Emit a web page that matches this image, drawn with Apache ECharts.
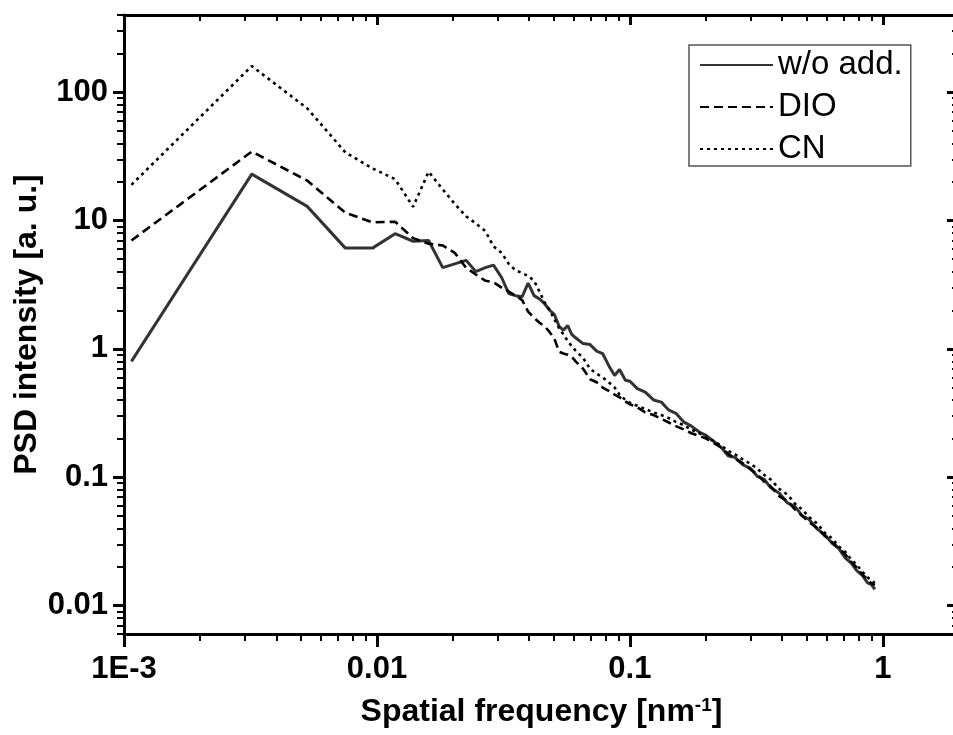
<!DOCTYPE html>
<html>
<head>
<meta charset="utf-8">
<script src="https://cdn.jsdelivr.net/npm/echarts@6/dist/echarts.min.js"></script>
<style>
  html, body { margin: 0; padding: 0; background: #fff; }
  #chart { width: 953px; height: 735px; }
</style>
</head>
<body>
<div id="chart"></div>
<script>
// spatial frequency [nm^-1]
var freq = [0.00107, 0.0032, 0.0053, 0.0075, 0.0096, 0.0118, 0.0139, 0.016, 0.0182, 0.0203,
  0.0225, 0.0246, 0.0268, 0.0289, 0.0311, 0.0332, 0.0353, 0.0375, 0.0396, 0.0418,
  0.0439, 0.046, 0.0482, 0.0503, 0.0525, 0.0546, 0.0568, 0.0589, 0.061, 0.0653,
  0.0696, 0.0739, 0.078, 0.0825, 0.087, 0.091, 0.096, 0.1, 0.107, 0.115,
  0.124, 0.133, 0.142, 0.152, 0.163, 0.175, 0.188, 0.2, 0.215, 0.23,
  0.245, 0.26, 0.28, 0.3, 0.32, 0.34, 0.36, 0.39, 0.42, 0.45,
  0.48, 0.51, 0.55, 0.59, 0.63, 0.67, 0.71, 0.75, 0.79, 0.83,
  0.87, 0.9, 0.93];

var woAdd = [0.8, 23, 12.9, 6.1, 6.1, 7.9, 6.9, 7.0, 4.3, 4.6,
  4.9, 4.0, 4.3, 4.5, 3.6, 2.7, 2.6, 2.55, 3.25, 2.6,
  2.45, 2.25, 2.0, 1.85, 1.5, 1.4, 1.52, 1.3, 1.22, 1.1,
  1.08, 0.96, 0.92, 0.74, 0.62, 0.69, 0.57, 0.56, 0.49, 0.46,
  0.40, 0.385, 0.335, 0.315, 0.27, 0.25, 0.225, 0.212, 0.19, 0.17,
  0.146, 0.143, 0.125, 0.117, 0.101, 0.096, 0.083, 0.075, 0.063, 0.059,
  0.05, 0.047, 0.0395, 0.0356, 0.0305, 0.0278, 0.0235, 0.0214, 0.0186, 0.0172,
  0.015, 0.0146, 0.0134];

var dio = [7.0, 34.5, 20.5, 11.5, 9.7, 9.8, 7.3, 6.6, 6.4, 5.6,
  4.3, 3.8, 3.4, 3.3, 3.0, 2.8, 2.6, 2.4, 1.95, 1.75,
  1.6, 1.5, 1.35, 1.2, 0.95, 0.92, 0.9, 0.87, 0.8, 0.7,
  0.58, 0.55, 0.5, 0.47, 0.44, 0.42, 0.39, 0.37, 0.35, 0.32,
  0.305, 0.285, 0.268, 0.25, 0.236, 0.22, 0.21, 0.2, 0.184, 0.17,
  0.152, 0.14, 0.128, 0.115, 0.105, 0.092, 0.085, 0.071, 0.065, 0.056,
  0.05, 0.0448, 0.0402, 0.0348, 0.0312, 0.0279, 0.0251, 0.0219, 0.0197, 0.0174,
  0.0161, 0.0149, 0.0145];

var cn = [19, 160, 75, 34, 25.5, 21, 12.8, 24, 17.5, 13.5,
  10.8, 9.5, 8.3, 6.3, 5.6, 4.6, 4.1, 3.9, 3.7, 3.4,
  2.8, 2.3, 2.0, 1.7, 1.45, 1.3, 1.15, 1.05, 0.97, 0.85,
  0.7, 0.64, 0.6, 0.55, 0.5, 0.44, 0.4, 0.38, 0.36, 0.34,
  0.32, 0.305, 0.29, 0.27, 0.255, 0.235, 0.22, 0.205, 0.19, 0.176,
  0.16, 0.151, 0.137, 0.127, 0.116, 0.104, 0.096, 0.081, 0.073, 0.062,
  0.056, 0.049, 0.0435, 0.0368, 0.0334, 0.0288, 0.0262, 0.0228, 0.0207, 0.0183,
  0.0166, 0.0156, 0.015];

var seriesNames = ['w/o add.', 'DIO', 'CN'];

var xMajor = [0.001, 0.01, 0.1, 1];
var xLabels = ['1E-3', '0.01', '0.1', '1'];
var xMinor = [0.002, 0.003, 0.004, 0.005, 0.006, 0.007, 0.008, 0.009,
  0.02, 0.03, 0.04, 0.05, 0.06, 0.07, 0.08, 0.09,
  0.2, 0.3, 0.4, 0.5, 0.6, 0.7, 0.8, 0.9, 2];
var yMajor = [0.01, 0.1, 1, 10, 100];
var yLabels = ['0.01', '0.1', '1', '10', '100'];
var yMinor = [0.006, 0.007, 0.008, 0.009,
  0.02, 0.03, 0.04, 0.05, 0.06, 0.07, 0.08, 0.09,
  0.2, 0.3, 0.4, 0.5, 0.6, 0.7, 0.8, 0.9,
  2, 3, 4, 5, 6, 7, 8, 9,
  20, 30, 40, 50, 60, 70, 80, 90, 200, 300, 400];

var font = 'Liberation Sans, Arial, sans-serif';

function pairs(ys) {
  return freq.map(function (f, i) { return [f, ys[i]]; });
}
function labelFor(list, labels) {
  return function (v) {
    for (var i = 0; i < list.length; i++) {
      if (Math.abs(Math.log10(v) - Math.log10(list[i])) < 1e-6) return labels[i];
    }
    return '';
  };
}

function logAxis(min, max, pos, ticks, len, width, inside, withLine) {
  return {
    type: 'log', logBase: 10, min: min, max: max, position: pos,
    axisLine: { show: withLine, onZero: false, lineStyle: { color: '#000', width: 3 } },
    axisTick: { show: true, inside: inside, length: len, customValues: ticks,
      lineStyle: { color: '#000', width: width } },
    axisLabel: { show: false },
    splitLine: { show: false }, minorTick: { show: false }
  };
}

var xBottom = logAxis(0.001, 2, 'bottom', xMajor, 13, 3, false, true);
xBottom.axisLabel = { show: true, customValues: xMajor, formatter: labelFor(xMajor, xLabels),
  fontSize: 31, fontWeight: 'bold', fontFamily: font, color: '#000', margin: 20 };
xBottom.name = 'Spatial frequency [nm{sup|-1}]';
xBottom.nameLocation = 'middle';
xBottom.nameGap = 62;
xBottom.nameMoveOverlap = false;
xBottom.nameTextStyle = { fontSize: 32, fontWeight: 'bold', fontFamily: font, color: '#000',
  rich: { sup: { fontSize: 19, fontWeight: 'bold', fontFamily: font, color: '#000', verticalAlign: 'top' } } };

var yLeft = logAxis(0.006, 400, 'left', yMajor, 11, 3, false, true);
yLeft.axisLabel = { show: true, customValues: yMajor, formatter: labelFor(yMajor, yLabels),
  fontSize: 31, fontWeight: 'bold', fontFamily: font, color: '#000', margin: 16 };
yLeft.name = 'PSD intensity [a. u.]';
yLeft.nameLocation = 'middle';
yLeft.nameGap = 81;
yLeft.nameMoveOverlap = false;
yLeft.nameTextStyle = { fontSize: 32, fontWeight: 'bold', fontFamily: font, color: '#000' };

var option = {
  animation: false,
  backgroundColor: '#fff',
  grid: { left: 124, top: 15, width: 835, height: 619, outerBoundsMode: 'none', containLabel: false },
  legend: {
    data: seriesNames,
    orient: 'vertical',
    left: 689, top: 45,
    itemWidth: 73, itemHeight: 20, itemGap: 8,
    padding: [3, 8, 0, 10],
    borderColor: '#555', borderWidth: 1.5,
    itemStyle: { opacity: 0 },
    textStyle: { fontSize: 33, fontFamily: font, color: '#000', lineHeight: 34 }
  },
  xAxis: [
    xBottom,
    logAxis(0.001, 2, 'bottom', xMinor, 7, 2, false, false),
    logAxis(0.001, 2, 'top', xMajor, 10, 3, true, true),
    logAxis(0.001, 2, 'top', xMinor, 6, 2, true, false)
  ],
  yAxis: [
    yLeft,
    logAxis(0.006, 400, 'left', yMinor, 7, 2, false, false),
    logAxis(0.006, 400, 'right', yMajor, 12, 3, true, true),
    logAxis(0.006, 400, 'right', yMinor, 7, 2, true, false)
  ],
  series: [
    { name: seriesNames[0], type: 'line', data: pairs(woAdd), symbol: 'none',
      lineStyle: { color: '#333', width: 3 }, itemStyle: { color: '#333' } },
    { name: seriesNames[1], type: 'line', data: pairs(dio), symbol: 'none',
      lineStyle: { color: '#000', width: 2.6, type: [9, 5] }, itemStyle: { color: '#000' } },
    { name: seriesNames[2], type: 'line', data: pairs(cn), symbol: 'none',
      lineStyle: { color: '#000', width: 2.6, type: [3, 4] }, itemStyle: { color: '#000' } }
  ]
};

var chart = echarts.init(document.getElementById('chart'));
chart.setOption(option);
</script>
</body>
</html>
